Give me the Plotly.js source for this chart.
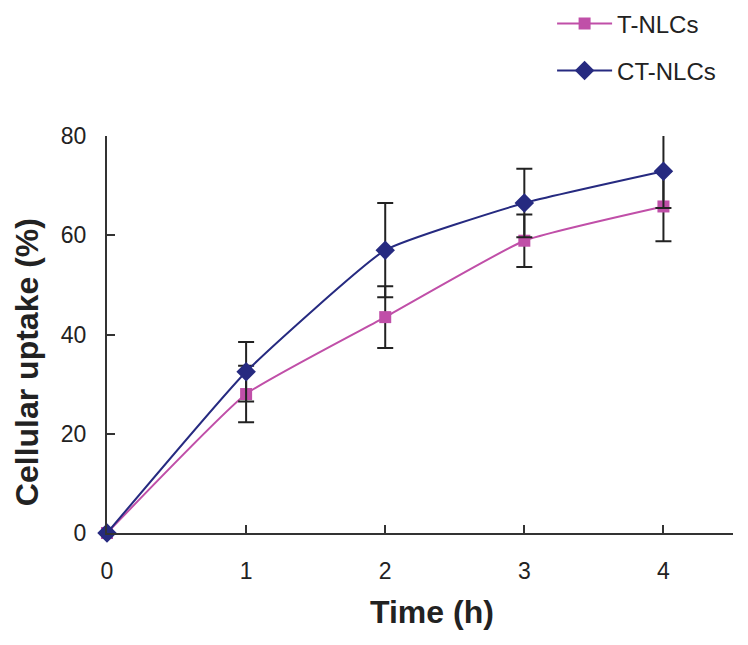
<!DOCTYPE html>
<html>
<head>
<meta charset="utf-8">
<script src="https://cdn.plot.ly/plotly-3.0.1.min.js"></script>
<style>
  html, body { margin: 0; padding: 0; background: #fff; }
  #chart { width: 748px; height: 645px; }
</style>
</head>
<body>
<div id="chart"></div>
<script>
// time points (h)
const timeH = [0, 1, 2, 3, 4]
// cellular uptake (%) and SD
const tNLCs = [0, 28.0, 43.5, 58.9, 65.8]
const tNLCsErr = [0, 5.7, 6.2, 5.3, 7.0]
const ctNLCs = [0, 32.5, 57.0, 66.5, 72.9]
const ctNLCsErr = [0, 6.0, 9.5, 6.9, 7.4]
const xTicks = [0, 1, 2, 3, 4]
const yTicks = [0, 20, 40, 60, 80]

const font = 'Liberation Sans, Arial, sans-serif'

var data = [{
  x: timeH,
  y: tNLCs,
  name: 'T-NLCs',
  mode: 'lines+markers',
  type: 'scatter',
  cliponaxis: false,
  line: {color: '#c04fa8', width: 2, shape: 'spline', smoothing: 0.4},
  marker: {symbol: 'square', size: 12, color: '#c04fa8'},
  error_y: {type: 'data', array: tNLCsErr, visible: true, color: '#222', thickness: 2, width: 8},
  legend: 'legend',
  showlegend: true
}, {
  x: timeH,
  y: ctNLCs,
  name: 'CT-NLCs',
  mode: 'lines+markers',
  type: 'scatter',
  cliponaxis: false,
  line: {color: '#262a80', width: 2, shape: 'spline', smoothing: 0.4},
  marker: {symbol: 'diamond', size: 15, color: '#262a80'},
  error_y: {type: 'data', array: ctNLCsErr, visible: true, color: '#222', thickness: 2, width: 8},
  legend: 'legend2',
  showlegend: true
}];

var legendBase = {
  xref: 'paper', yref: 'container', xanchor: 'left', yanchor: 'middle',
  font: {family: font, size: 24, color: '#222'},
  bgcolor: 'rgba(0,0,0,0)', itemwidth: 55, visible: true
}

var titleFont = {family: font, size: 32, color: '#222', weight: 'bold'}

var layout = {
  width: 748,
  height: 645,
  showlegend: true,
  margin: {l: 107, r: 15, t: 136, b: 112},
  paper_bgcolor: '#fff',
  plot_bgcolor: '#fff',
  font: {family: font, color: '#222'},
  xaxis: {
    range: [0, 4.5],
    tickvals: xTicks,
    ticks: 'inside', ticklen: 8, tickwidth: 2, tickcolor: '#333',
    showline: true, linecolor: '#333', linewidth: 2,
    showgrid: false, zeroline: false,
    tickfont: {family: font, size: 23, color: '#222'},
    ticklabelstandoff: 16
  },
  yaxis: {
    range: [0, 80],
    tickvals: yTicks,
    ticks: 'inside', ticklen: 8, tickwidth: 2, tickcolor: '#333',
    showline: true, linecolor: '#333', linewidth: 2,
    showgrid: false, zeroline: false,
    tickfont: {family: font, size: 23, color: '#222'},
    ticklabelstandoff: 14
  },
  annotations: [{
    text: 'Time (h)', xref: 'paper', yref: 'paper', x: 0.519, y: -0.199,
    xanchor: 'center', yanchor: 'middle', showarrow: false, font: titleFont
  }, {
    text: 'Cellular uptake (%)', xref: 'paper', yref: 'paper', x: -0.128, y: 0.43,
    xanchor: 'center', yanchor: 'middle', textangle: -90, showarrow: false, font: titleFont
  }],
  legend: Object.assign({x: 0.711, y: 1 - 24 / 645}, legendBase),
  legend2: Object.assign({x: 0.711, y: 1 - 71 / 645}, legendBase)
};

Plotly.newPlot('chart', data, layout, {displayModeBar: false});
</script>
</body>
</html>
